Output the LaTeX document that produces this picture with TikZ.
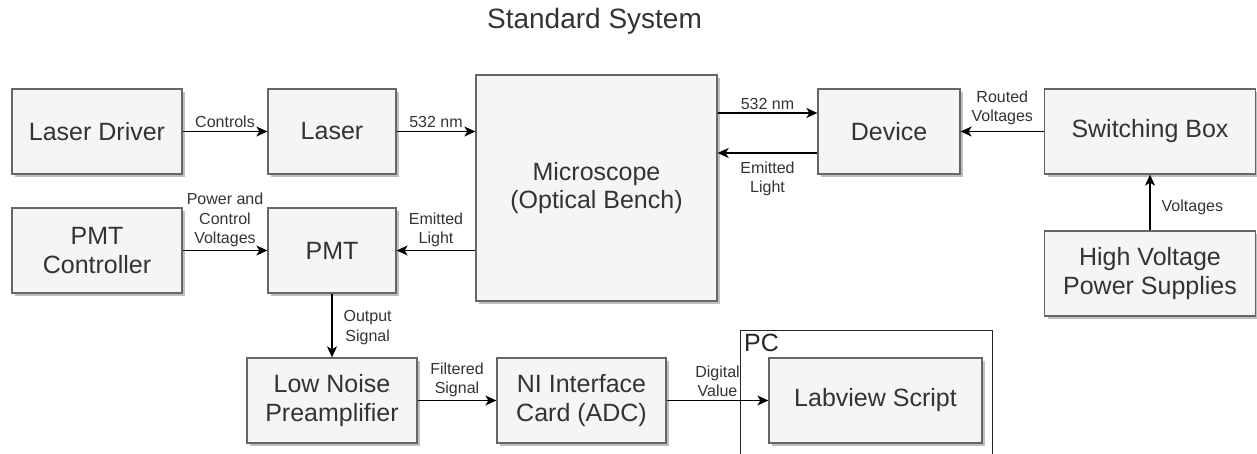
\documentclass[tikz,border=0pt]{standalone}
\usepackage{fontspec}
\setmainfont{Liberation Sans}
\usepackage{tikz}
\usetikzlibrary{arrows.meta,shadows}
\definecolor{boxfill}{HTML}{F5F5F5}
\definecolor{boxline}{HTML}{666666}
\definecolor{boxtext}{HTML}{333333}

\begin{document}
\begin{tikzpicture}[
    x=1pt, y=-1pt,
    block/.style={rectangle, draw=boxline, line width=1.3pt,
                  fill=boxfill, text=boxtext,
                  minimum height=85pt, align=center,
                  font=\fontsize{25}{28.5}\selectfont,
                  drop shadow={shadow xshift=3pt, shadow yshift=-3pt,
                               fill=black, opacity=.25}},
    flow/.style={-{Stealth[length=11pt, width=10pt, inset=3pt]},
                 line width=1.3pt},
    lbl/.style={text=boxtext, align=center, inner sep=3pt,
                font=\fontsize{16}{19.5}\selectfont}
]
\useasboundingbox (0,0) rectangle (1257,454);

\node[text=boxtext, font=\fontsize{28}{31}\selectfont] (title) at (594.5,21.5) {Standard System};

% top row
\node[block, minimum width=170pt] (drv) at (97,131.5) {Laser Driver};
\node[block, minimum width=128pt] (laser) at (332,131.5) {Laser};
\node[block, minimum width=241pt, minimum height=226pt] (micro) at (596.5,188) {Microscope\\(Optical Bench)};
\node[block, minimum width=142pt] (dev) at (889,131.5) {Device};
\node[block, minimum width=211pt] (sw) at (1150,131.5) {Switching Box};
\node[block, minimum width=211pt] (hv) at (1150,273.5) {High Voltage\\Power Supplies};

% detection chain
\node[block, minimum width=170pt] (pmtc) at (97,250.5) {PMT\\Controller};
\node[block, minimum width=128pt] (pmt) at (332,250.5) {PMT};
\node[block, minimum width=170pt] (lna) at (332,400.5) {Low Noise\\Preamplifier};
\node[block, minimum width=169pt] (ni) at (581.5,400.5) {NI Interface\\Card (ADC)};

% PC frame
\node[draw=black!85, line width=1.3pt, minimum width=252pt, minimum height=150pt,
      anchor=north west, inner sep=0pt] (pc) at (740,330) {};
\node[text=black!85, font=\fontsize{25}{28}\selectfont, anchor=north west,
      inner sep=4pt] (pclbl) at (pc.north west) {PC};
\node[block, minimum width=213pt] (lv) at (875.5,400.5) {Labview Script};

\coordinate (dtop) at ([yshift=18.5pt]dev.west);
\coordinate (dbot) at ([yshift=-21.5pt]dev.west);

\draw[flow] (drv) -- node[lbl, above] {Controls} (laser);
\draw[flow] (laser.east) -- node[lbl, above] {532 nm} (laser.east -| micro.west);
\draw[flow] (micro.east |- dtop) -- node[lbl, above] {532 nm} (dtop);
\draw[flow] (dbot) -- node[lbl, below, yshift=-5pt] {Emitted\\Light} (micro.east |- dbot);
\draw[flow] (sw) -- node[lbl, above, yshift=3pt] {Routed\\Voltages} (dev);
\draw[flow] (hv) -- node[lbl, right, xshift=8pt, yshift=-5pt] {Voltages} (sw);
\draw[flow] (pmtc) -- node[lbl, above] {Power and\\Control\\Voltages} (pmt);
\draw[flow] (micro.west |- pmt.east) -- node[lbl, above] {Emitted\\Light} (pmt);
\draw[flow] (pmt) -- node[lbl, right, xshift=8pt, yshift=-2pt] {Output\\Signal} (lna);
\draw[flow] (lna) -- node[lbl, above] {Filtered\\Signal} (ni);
\draw[flow] (ni) -- node[lbl, above] {Digital\\Value} (lv);
\end{tikzpicture}
\end{document}
